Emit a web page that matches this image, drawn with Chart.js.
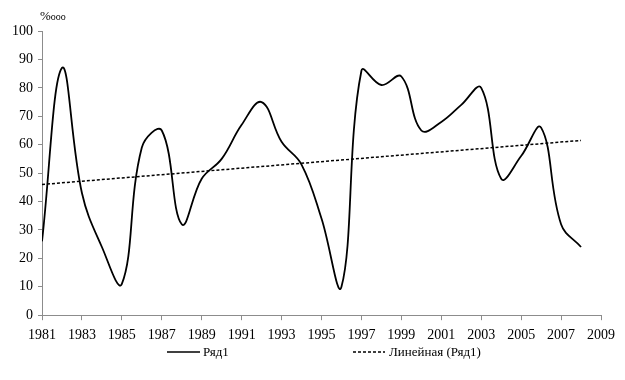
<!DOCTYPE html>
<html>
<head>
<meta charset="utf-8">
<script src="https://cdn.jsdelivr.net/npm/chart.js@4.4.1/dist/chart.umd.min.js"></script>
<style>
  html, body { margin: 0; padding: 0; background: #fff; }
  #wrap { width: 625px; height: 380px; }
</style>
</head>
<body>
<div id="wrap"><canvas id="chart" width="625" height="380"></canvas></div>
<script>
const years = [1981, 1982, 1983, 1984, 1985, 1986, 1987, 1988, 1989, 1990, 1991, 1992, 1993, 1994,
  1995, 1996, 1997, 1998, 1999, 2000, 2001, 2002, 2003, 2004, 2005, 2006, 2007, 2008];
const values = [26, 87, 43, 24, 11, 59, 65, 32, 48, 55, 67, 75, 61, 53,
  34, 10, 86, 81, 84, 65, 68, 74, 80, 48, 56, 66, 32, 24];
const trendYears = [1981, 2008];
const trendValues = [46, 61.5];
const seriesName = 'Ряд1';
const trendName = 'Линейная (Ряд1)';
const unitLabel = '%ooo';

const FONT = '"Liberation Serif", "Times New Roman", serif';
const AXIS = '#8c8c8c';

// legend + unit label drawn by hand, Excel style
const extras = {
  id: 'extras',
  afterDraw(chart) {
    const ctx = chart.ctx;
    ctx.save();
    ctx.fillStyle = '#000';
    ctx.textBaseline = 'alphabetic';
    ctx.font = '13px ' + FONT;
    ctx.fillText('%', 40, 20);
    const w = ctx.measureText('%').width;
    ctx.font = '10px ' + FONT;
    ctx.fillText(unitLabel.slice(1), 40 + w, 20);

    const ly = 352;
    ctx.strokeStyle = '#000';
    ctx.lineWidth = 1.5;
    ctx.beginPath(); ctx.moveTo(167, ly); ctx.lineTo(200, ly); ctx.stroke();
    ctx.setLineDash([3, 2]);
    ctx.beginPath(); ctx.moveTo(353, ly); ctx.lineTo(385, ly); ctx.stroke();
    ctx.setLineDash([]);
    ctx.font = '13px ' + FONT;
    ctx.textBaseline = 'middle';
    ctx.fillText(seriesName, 203, ly + 1);
    ctx.fillText(trendName, 389, ly + 1);
    ctx.restore();
  }
};

new Chart(document.getElementById('chart').getContext('2d'), {
  type: 'line',
  data: {
    datasets: [{
      label: seriesName,
      data: years.map((y, i) => ({ x: y, y: values[i] })),
      borderColor: '#000',
      borderWidth: 1.8,
      pointRadius: 0,
      fill: false,
      tension: 0.4
    }, {
      label: trendName,
      data: trendYears.map((y, i) => ({ x: y, y: trendValues[i] })),
      borderColor: '#000',
      borderWidth: 1.5,
      borderDash: [3, 2],
      pointRadius: 0,
      fill: false,
      tension: 0
    }]
  },
  options: {
    responsive: false,
    animation: false,
    layout: { padding: { top: 31, right: 24, bottom: 29, left: 0 } },
    plugins: {
      legend: { display: false },
      tooltip: { enabled: false }
    },
    scales: {
      x: {
        type: 'linear',
        min: 1981,
        max: 2009,
        border: { color: AXIS, width: 1 },
        grid: { drawOnChartArea: false, drawTicks: true, tickLength: 5, color: AXIS },
        ticks: {
          stepSize: 2,
          padding: 7,
          color: '#000',
          font: { family: FONT, size: 14 },
          maxRotation: 0,
          callback: v => String(v)
        }
      },
      y: {
        min: 0,
        max: 100,
        border: { color: AXIS, width: 1 },
        grid: { drawOnChartArea: false, drawTicks: true, tickLength: 4, color: AXIS },
        ticks: {
          stepSize: 10,
          padding: 5,
          color: '#000',
          font: { family: FONT, size: 14 }
        },
        afterFit(scale) { scale.width = 42; }
      }
    }
  },
  plugins: [extras]
});
</script>
</body>
</html>
